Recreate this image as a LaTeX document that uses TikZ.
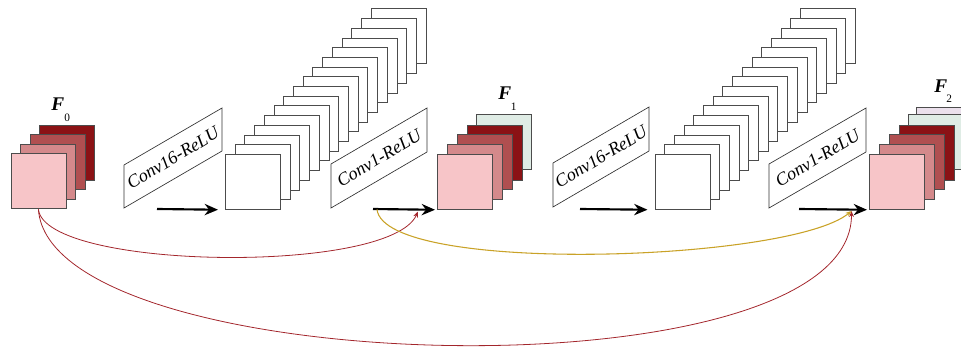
\documentclass[tikz,border=0pt]{standalone}
\usepackage{fontspec}
\setmainfont{Liberation Serif}
\usetikzlibrary{arrows.meta}
\definecolor{pk1}{HTML}{F7C5C8}
\definecolor{pk2}{HTML}{D4898B}
\definecolor{pk3}{HTML}{B04F50}
\definecolor{pk4}{HTML}{8B1215}
\definecolor{gr1}{HTML}{DFECE5}
\definecolor{lv1}{HTML}{EBE0EC}
\definecolor{redc}{HTML}{A3262C}
\definecolor{goldc}{HTML}{C9A227}
\tikzset{
  fmap/.style={draw=black!70, line width=0.6pt, rectangle, inner sep=0pt,
    minimum width=41.25pt, minimum height=41.25pt, anchor=north west},
  wmap/.style={fmap, fill=white},
  opbox/.style={draw=black!80, line width=0.5pt, fill=white},
  optext/.style={font=\fontsize{13.5}{15}\selectfont\itshape, rotate=31, inner sep=0pt},
  mainarrow/.style={line width=1.6pt, -{Stealth[length=10pt,width=8.5pt]}},
  skipred/.style={draw=redc, line width=0.6pt, -{Stealth[length=4.5pt,width=3.5pt]}},
  skipgold/.style={draw=goldc, line width=0.8pt, -{Stealth[length=4.5pt,width=3.5pt]}},
  flab/.style={inner sep=0pt, anchor=base west, font=\fontsize{14.5}{16}\selectfont\bfseries\itshape},
  fsub/.style={inner sep=0pt, anchor=base west, font=\fontsize{8.5}{9}\selectfont}
}
\begin{document}
\begin{tikzpicture}[x=0.75pt,y=-0.75pt]
\useasboundingbox (0,0) rectangle (961,349);

% ---------- F0 stack ----------
\node[fmap, fill=pk4] (f0d) at (39,125) {};
\node[fmap, fill=pk3] (f0c) at (29.5,134.5) {};
\node[fmap, fill=pk2] (f0b) at (20,144) {};
\node[fmap, fill=pk1] (f0a) at (10.5,153.5) {};
\node[flab] (F0l) at (51,111) {F};
\node[fsub] (F0s) at (64,122) {0};

% ---------- Conv16-ReLU #1 ----------
\draw[opbox] (124,165) -- (124,208) -- (222,151) -- (222,108) -- cycle;
\node[optext] (op1) at (173,158) {Conv16-ReLU};
\coordinate (a1s) at (157,209);

\foreach \i in {15,14,...,0} {
  \node[wmap] (c1m\i) at ({225+9.72*\i},{154-9.7*\i}) {};
}

% ---------- Conv1-ReLU #1 ----------
\draw[opbox] (331,164) -- (331,208) -- (427,152) -- (427,108) -- cycle;
\node[optext] (op2) at (379,158) {Conv1-ReLU};
\coordinate (a2s) at (373,209);

% ---------- F1 stack ----------
\node[fmap, fill=gr1] (f1e) at (476,114.5) {};
\node[fmap, fill=pk4] (f1d) at (467,125) {};
\node[fmap, fill=pk3] (f1c) at (457,134.5) {};
\node[fmap, fill=pk2] (f1b) at (447,144) {};
\node[fmap, fill=pk1] (f1a) at (437,154) {};
\node[flab] (F1l) at (498,100) {F};
\node[fsub] (F1s) at (510.5,110.5) {1};

% ---------- Conv16-ReLU #2 ----------
\draw[opbox] (553,163) -- (553,207) -- (649,151) -- (649,107) -- cycle;
\node[optext] (op3) at (601,157) {Conv16-ReLU};
\coordinate (a3s) at (580,209);

\foreach \i in {15,14,...,0} {
  \node[wmap] (c2m\i) at ({654.5+9.7*\i},{154-9.7*\i}) {};
}

% ---------- Conv1-ReLU #2 ----------
\draw[opbox] (769,164) -- (769,208) -- (866,152) -- (866,108) -- cycle;
\node[optext] (op4) at (817.5,158) {Conv1-ReLU};
\coordinate (a4s) at (799,209);

% ---------- F2 stack ----------
\node[fmap, fill=lv1] (f2f) at (916,107) {};
\node[fmap, fill=gr1] (f2e) at (908,114.5) {};
\node[fmap, fill=pk4] (f2d) at (899,125) {};
\node[fmap, fill=pk3] (f2c) at (889,134.5) {};
\node[fmap, fill=pk2] (f2b) at (879,144) {};
\node[fmap, fill=pk1] (f2a) at (869,154) {};
\node[flab] (F2l) at (934,93) {F};
\node[fsub] (F2s) at (946,103) {2};

% ---------- main arrows ----------
\draw[mainarrow, shorten >=5.25pt] (a1s) -- (c1m0.south west);
\draw[mainarrow, shorten >=1.5pt] (a2s) -- (f1a.south west);
\draw[mainarrow, shorten >=5.25pt] (a3s) -- (c2m0.south west);
\draw[mainarrow, shorten >=1.5pt] (a4s) -- (f2a.south west);

% ---------- skip connections ----------
\coordinate (t1) at (418,211.5);
\coordinate (t2) at (851.5,211);
\coordinate (g0) at (377,209.5);
\draw[skipred] (f0a.south) .. controls (45,270) and (390,275) .. (t1);
\draw[skipred] (f0a.south) .. controls (50,380) and (852,400) .. (t2);
\draw[skipgold] (g0) .. controls (385,275) and (790,262) .. (t2);
\end{tikzpicture}
\end{document}
